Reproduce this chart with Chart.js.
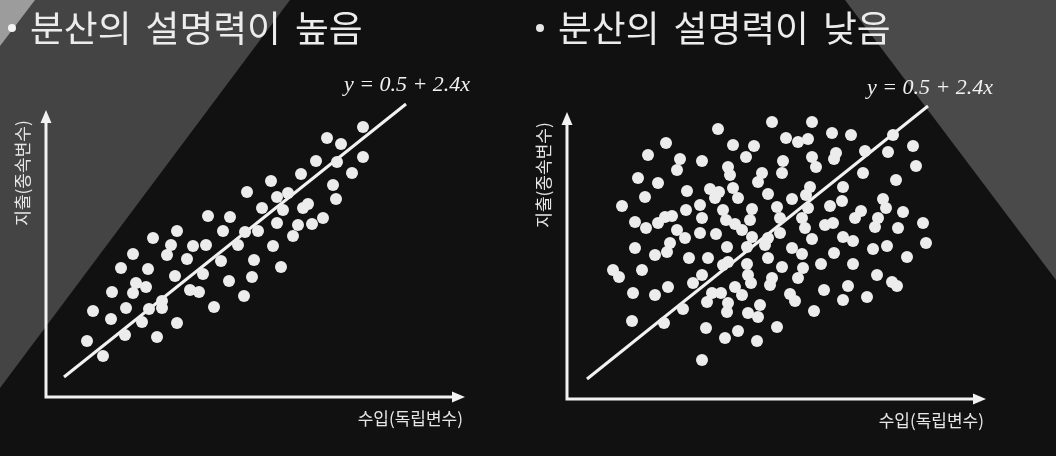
<!DOCTYPE html>
<html><head><meta charset="utf-8">
<script src="https://cdn.jsdelivr.net/npm/chart.js@4.4.1/dist/chart.umd.min.js"></script>
<style>
html,body{margin:0;padding:0;background:#111;overflow:hidden}
#wrap{position:relative;width:1056px;height:456px}
canvas{position:absolute;top:0}
</style></head><body>
<div id="wrap"><canvas id="c1" width="528" height="456" style="left:0"></canvas><canvas id="c2" width="528" height="456" style="left:528px"></canvas></div>
<script>
// ---- data (x = 수입, y = 지출, arbitrary units) ----
const titles = ['분산의 설명력이 높음', '분산의 설명력이 낮음'];
const xAxisLabel = '수입(독립변수)';
const yAxisLabel = '지출(종속변수)';
const equation = 'y = 0.5 + 2.4x';

const leftPoints = [
[31.7,27.0],[28.1,25.9],[29.5,25.3],[27.0,23.6],[29.1,23.5],[31.7,24.0],[25.5,22.3],[30.6,22.4],
[22.5,21.6],[28.7,21.2],[20.1,20.5],[23.1,20.0],[24.2,20.4],[29.0,19.8],[21.6,18.9],[23.7,18.7],
[25.7,18.9],[26.2,19.3],[16.2,18.1],[18.4,18.0],[23.1,17.4],[25.2,17.2],[26.6,17.3],[27.7,17.9],
[13.1,16.6],[17.7,16.6],[19.9,16.5],[21.2,16.6],[24.7,16.1],[10.7,15.9],[12.5,15.2],[14.7,15.1],
[16.0,15.2],[19.2,15.2],[22.7,15.1],[8.7,14.3],[12.1,14.2],[14.1,13.8],[17.5,13.6],[20.8,13.7],
[23.5,13.0],[7.5,12.9],[10.2,12.8],[12.9,12.1],[15.7,12.3],[18.3,11.6],[20.6,12.0],[9.0,11.4],
[10.0,11.0],[6.6,10.5],[8.7,10.4],[14.4,10.7],[15.3,10.5],[19.8,10.1],[11.6,9.6],[16.8,9.0],
[4.7,8.6],[8.0,8.9],[10.3,8.8],[11.6,8.9],[6.5,7.8],[9.6,7.5],[13.1,7.4],[4.1,5.6],
[7.9,6.2],[11.1,6.0],[5.7,4.1]
];

const rightPoints = [
[20.5,27.7],[24.5,27.7],[15.1,27.0],[26.5,26.6],[28.4,26.4],[32.6,26.4],[21.9,26.1],[23.1,25.7],
[24.1,26.0],[9.9,25.6],[16.6,25.4],[18.7,25.3],[34.6,25.3],[29.8,24.8],[32.1,24.7],[26.9,24.6],
[8.1,24.4],[17.9,24.2],[24.5,24.2],[11.3,24.0],[13.5,23.8],[21.6,23.8],[26.7,24.0],[24.9,23.2],
[34.9,23.3],[16.1,23.2],[11.0,22.9],[16.3,22.4],[19.5,22.6],[21.5,22.6],[29.6,22.6],[7.1,22.1],
[19.1,21.7],[9.1,21.6],[32.9,21.9],[27.6,21.2],[24.3,21.2],[12.0,20.8],[14.3,21.0],[15.2,20.7],
[16.6,21.1],[20.1,20.5],[7.8,20.2],[23.9,20.4],[31.6,20.0],[22.5,20.0],[14.8,20.1],[17.1,20.1],
[27.5,19.8],
[5.5,19.3],[11.9,18.9],[13.3,19.4],[15.6,18.9],[18.5,19.0],[21.0,19.2],[24.1,19.1],[26.3,19.3],
[29.4,18.8],[31.9,19.1],[33.6,18.7],[6.8,17.7],[7.9,17.1],[9.1,17.6],[9.8,18.2],[10.5,18.3],
[13.5,18.1],[15.9,17.9],[16.8,17.5],[18.3,17.9],[21.3,18.1],[23.5,18.1],[25.8,17.4],[26.6,17.6],
[28.8,18.1],[31.1,18.1],[35.6,17.6],[11.0,16.9],[13.3,16.6],[14.9,16.5],[17.5,16.9],[18.5,16.2],
[21.3,16.6],[23.8,17.1],[30.8,17.2],[33.1,17.1],[11.8,16.1],[20.1,16.1],[24.5,16.0],[27.6,16.2],
[28.6,15.8],[35.9,15.6],[6.8,15.1],[10.3,15.6],[16.0,15.2],[18.0,15.2],[19.8,15.4],[22.5,15.1],
[23.5,14.5],[26.7,14.6],[30.6,15.0],[32.0,15.3],[8.8,14.4],[10.0,14.7],[12.2,14.1],[14.1,14.1],
[16.1,13.7],[18.0,13.5],[20.1,14.1],[34.0,14.2],[4.6,12.9],[5.2,12.2],[7.5,12.9],[13.5,12.4],
[15.6,13.4],[21.5,13.2],[23.6,13.1],[25.4,13.5],[28.6,13.5],[31.0,12.4],[18.1,12.4],[20.5,12.1],
[23.1,12.1],[32.5,11.7],
[6.6,10.6],[8.8,10.4],[10.1,11.2],[12.6,11.6],[14.5,10.6],[15.4,10.6],[14.0,9.7],[16.8,11.2],
[17.5,10.4],[16.1,9.6],[16.0,8.7],[18.4,11.6],[20.3,11.4],[19.3,9.4],[18.1,8.6],[19.1,8.2],
[22.3,10.5],[22.8,9.8],[25.7,10.9],[24.7,8.8],[27.6,9.9],[28.1,11.3],[30.0,10.2],[33.0,11.3],
[11.6,9.0],[6.5,7.8],[9.7,7.6],[13.9,7.1],[17.1,6.8],[21.0,7.2],[15.8,6.1],[19.0,5.8],
[13.5,3.9]
];

// regression line end points
const leftLine = [[1.8,2.0],[36.0,29.3]];
const rightLine = [[2.0,2.0],[36.1,29.3]];
// equation label anchor (data units)
const leftEqPos = [36.1,31.2];
const rightEqPos = [36.3,31.1];
// axis extent (arrow tips, data units)
const axisTip = [41.9,28.7];

// ---- drawing helpers ----
const DOT = '#ececec', TXT = '#e6e6e6', BG = '#111111';

const decor = {
  id: 'decor',
  beforeDraw(chart, args, o) {
    const ctx = chart.ctx;
    ctx.save();
    ctx.fillStyle = BG;
    ctx.fillRect(0, 0, chart.width, chart.height);
    (o.shapes || []).forEach(s => {
      ctx.fillStyle = s.color;
      ctx.beginPath();
      s.pts.forEach((p, i) => i ? ctx.lineTo(p[0], p[1]) : ctx.moveTo(p[0], p[1]));
      ctx.closePath();
      ctx.fill();
    });
    ctx.restore();
  },
  afterDraw(chart, args, o) {
    const ctx = chart.ctx, xs = chart.scales.x, ys = chart.scales.y;
    const x0 = xs.getPixelForValue(0), y0 = ys.getPixelForValue(0);
    const xt = xs.getPixelForValue(axisTip[0]), yt = ys.getPixelForValue(axisTip[1]);
    ctx.save();
    // axes
    ctx.strokeStyle = '#f2f2f2'; ctx.fillStyle = '#f2f2f2'; ctx.lineWidth = 3;
    ctx.beginPath();
    ctx.moveTo(x0, yt + 10); ctx.lineTo(x0, y0); ctx.lineTo(xt - 10, y0);
    ctx.stroke();
    ctx.beginPath();
    ctx.moveTo(x0, yt); ctx.lineTo(x0 - 5.5, yt + 13); ctx.lineTo(x0 + 5.5, yt + 13); ctx.closePath(); ctx.fill();
    ctx.beginPath();
    ctx.moveTo(xt, y0); ctx.lineTo(xt - 13, y0 - 5.5); ctx.lineTo(xt - 13, y0 + 5.5); ctx.closePath(); ctx.fill();
    // axis labels
    ctx.fillStyle = TXT;
    ctx.font = "17px 'Noto Sans CJK KR'";
    ctx.textBaseline = 'middle';
    ctx.textAlign = 'right';
    ctx.fillText(xAxisLabel, xt - 2, y0 + 22);
    ctx.save();
    ctx.translate(x0 - 23.5, yt + 63);
    ctx.rotate(-Math.PI / 2);
    ctx.textAlign = 'center';
    ctx.fillText(yAxisLabel, 0, 0);
    ctx.restore();
    // equation
    ctx.font = "italic 22px 'Liberation Serif'";
    ctx.textAlign = 'center';
    ctx.fillStyle = '#f0f0f0';
    ctx.fillText(equation, xs.getPixelForValue(o.eq[0]), ys.getPixelForValue(o.eq[1]));
    // title: fit the glyph run to the reference width (8 glyphs ~ 305px)
    ctx.fillStyle = o.bulletColor;
    ctx.beginPath(); ctx.arc(12, 28, 4, 0, Math.PI * 2); ctx.fill();
    ctx.fillStyle = '#ececec';
    ctx.font = "36px 'Noto Sans CJK KR'";
    const gw = ctx.measureText(o.title.replace(/ /g, '')).width;
    const fs = Math.max(30, Math.min(42, 36 * 305 / gw));
    ctx.font = fs.toFixed(1) + "px 'Noto Sans CJK KR'";
    ctx.textAlign = 'left';
    let x = 30;
    const sp = 14;
    o.title.split(' ').forEach(w => {
      ctx.fillText(w, x, 28);
      x += ctx.measureText(w).width + sp;
    });
    ctx.restore();
  }
};

function makeChart(id, pts, line, eq, title, pad, shapes, bulletColor) {
  return new Chart(document.getElementById(id), {
    type: 'scatter',
    data: {
      datasets: [
        { data: pts.map(p => ({ x: p[0], y: p[1] })), pointRadius: 6, pointHoverRadius: 6,
          backgroundColor: DOT, borderWidth: 0, clip: false },
        { data: line.map(p => ({ x: p[0], y: p[1] })), showLine: true, pointRadius: 0,
          borderColor: '#f2f2f2', borderWidth: 3, clip: false }
      ]
    },
    options: {
      responsive: false, animation: false, devicePixelRatio: 1,
      layout: { padding: pad },
      scales: {
        x: { type: 'linear', min: 0, max: 42, display: false },
        y: { type: 'linear', min: 0, max: 30, display: false }
      },
      plugins: {
        legend: { display: false }, tooltip: { enabled: false },
        decor: { eq, title, shapes, bulletColor }
      }
    },
    plugins: [decor]
  });
}

makeChart('c1', leftPoints, leftLine, leftEqPos, titles[0],
  { left: 46, right: 62, top: 97, bottom: 59 },
  [ { color: '#444444', pts: [[0,0],[290,0],[0,388]] },
    { color: '#9c9c9c', pts: [[0,0],[35,0],[0,46]] } ], '#f4f4f4');
makeChart('c2', rightPoints, rightLine, rightEqPos, titles[1],
  { left: 39, right: 69, top: 99, bottom: 57 },
  [ { color: '#4a4a4a', pts: [[317,0],[528,0],[528,280]] } ], '#e6e6e6');
</script>
</body></html>
